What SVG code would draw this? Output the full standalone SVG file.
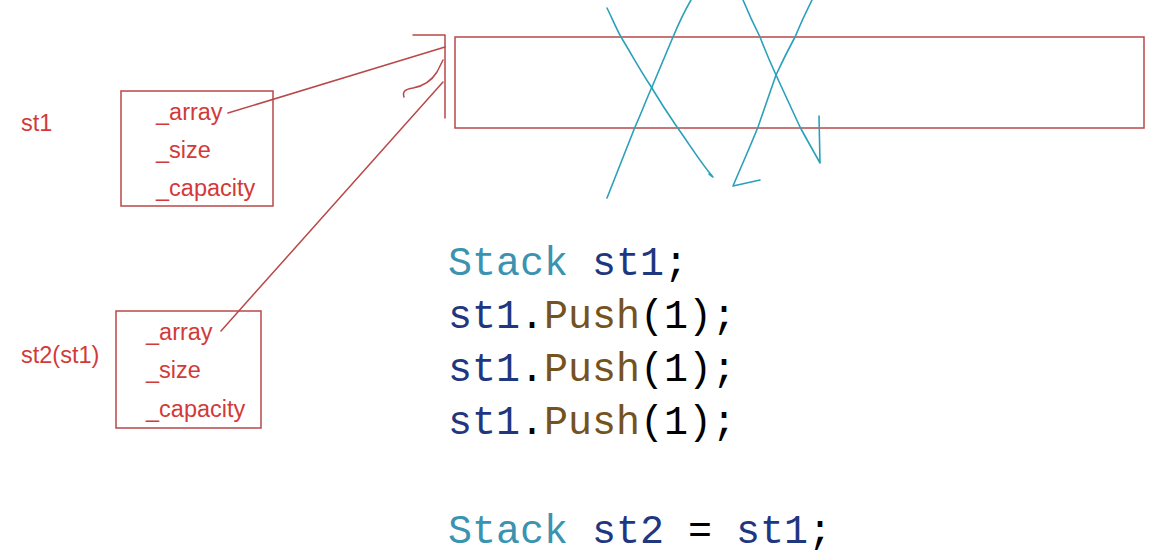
<svg xmlns="http://www.w3.org/2000/svg" width="1159" height="557" viewBox="0 0 1159 557">
<style>
.box{fill:none;stroke:#b94848;stroke-width:1.5}
.lbl{font-family:"Liberation Sans",Arial,sans-serif;font-size:23.5px;fill:#d23a3a}
.ink{fill:none;stroke:#b94848;stroke-width:1.5;stroke-linecap:round;stroke-linejoin:round}
.pen{fill:none;stroke:#2aa0ba;stroke-width:1.6;stroke-linecap:round;stroke-linejoin:round}
.code{font-family:"Liberation Mono","DejaVu Sans Mono",monospace;font-size:40px;fill:#000}
.ty{fill:#3b93b0}.var{fill:#1f377f}.fn{fill:#74531f}
</style>
<rect width="1159" height="557" fill="#ffffff"/>
<g id="heap">
<rect class="box" x="455" y="37" width="689" height="91"/>
<path class="ink" d="M413,35 L445,35 L445,118"/>
</g>
<g id="st1">
<text class="lbl" x="21" y="131">st1</text>
<rect class="box" x="121" y="91" width="152" height="115"/>
<text class="lbl" x="156" y="120">_array</text>
<text class="lbl" x="156" y="158">_size</text>
<text class="lbl" x="156" y="196">_capacity</text>
</g>
<g id="st2">
<text class="lbl" x="21" y="363">st2(st1)</text>
<rect class="box" x="116" y="311" width="145" height="117"/>
<text class="lbl" x="146" y="340">_array</text>
<text class="lbl" x="146" y="378">_size</text>
<text class="lbl" x="146" y="417">_capacity</text>
</g>
<g id="connectors">
<path class="ink" d="M228,113 L445,47"/>
<path class="ink" d="M221,331 L443,82"/>
<path class="ink" d="M404,97 C402,91 406,89 413,88 C424,86 432,80 437,72 L441,64 L443,60"/>
</g>
<g id="crossout">
<path class="pen" d="M607,8 C612,18 616,28 621,37 C632,55 640,70 650,85 C659,100 668,114 677,127 C690,145 700,162 713,177 L709,174"/>
<path class="pen" d="M691,0 C684,12 678,25 673,37 C666,54 659,70 652,87 C646,100 641,114 635,127 C626,150 616,175 607,198"/>
<path class="pen" d="M743,0 C748,12 754,25 760,37 C765,50 770,62 776,75 C784,92 792,110 800,127 C807,140 814,152 820,163 L819,116"/>
<path class="pen" d="M812,0 C806,12 800,25 795,37 C788,50 782,62 776,75 C770,92 764,110 758,127 C750,147 741,167 733,186 L760,180"/>
</g>
<g id="code">
<text class="code" x="448" y="275"><tspan class="ty">Stack</tspan> <tspan class="var">st1</tspan>;</text>
<text class="code" x="448" y="328"><tspan class="var">st1</tspan>.<tspan class="fn">Push</tspan>(1);</text>
<text class="code" x="448" y="381"><tspan class="var">st1</tspan>.<tspan class="fn">Push</tspan>(1);</text>
<text class="code" x="448" y="434"><tspan class="var">st1</tspan>.<tspan class="fn">Push</tspan>(1);</text>
<text class="code" x="448" y="543"><tspan class="ty">Stack</tspan> <tspan class="var">st2</tspan> = <tspan class="var">st1</tspan>;</text>
</g>
</svg>
